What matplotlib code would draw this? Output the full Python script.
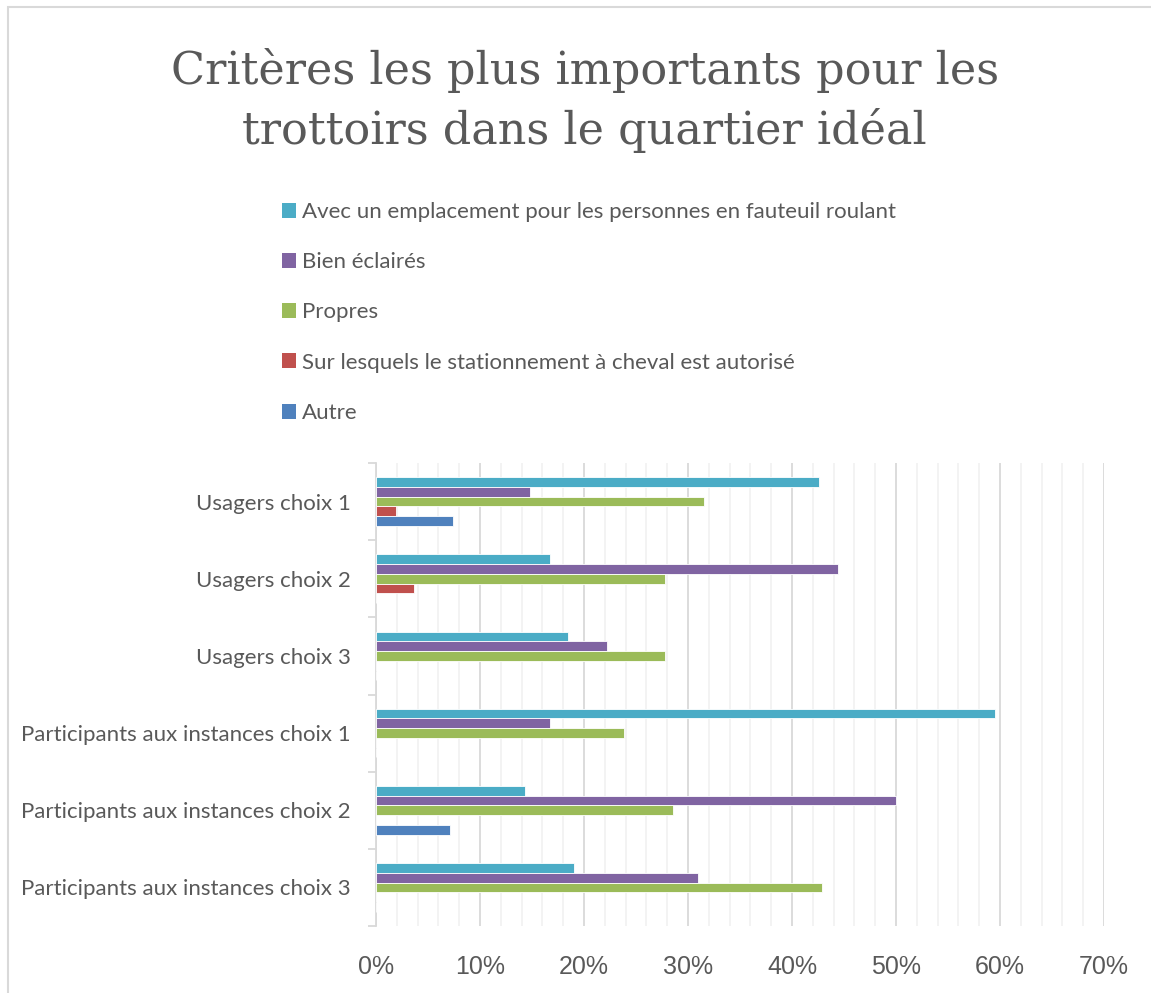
import numpy as np
import matplotlib.pyplot as plt
from matplotlib.patches import Patch, Rectangle
from matplotlib.ticker import MultipleLocator, FuncFormatter

categories = ["Usagers choix 1", "Usagers choix 2", "Usagers choix 3",
              "Participants aux instances choix 1",
              "Participants aux instances choix 2",
              "Participants aux instances choix 3"]

series_names = ["Avec un emplacement pour les personnes en fauteuil roulant",
                "Bien éclairés",
                "Propres",
                "Sur lesquels le stationnement à cheval est autorisé",
                "Autre"]

# shares, in %
fauteuil = [42.6, 16.7, 18.5, 59.5, 14.3, 19.0]
eclaires = [14.8, 44.4, 22.2, 16.7, 50.0, 31.0]
propres = [31.5, 27.8, 27.8, 23.8, 28.6, 42.9]
cheval = [1.9, 3.7, 0, 0, 0, 0]
autre = [7.4, 0, 0, 0, 7.1, 0]

values = [fauteuil, eclaires, propres, cheval, autre]
colors = ["#4BACC6", "#8064A2", "#9BBB59", "#C0504D", "#4F81BD"]

txt = "#595959"
sans = ["Lato", "DejaVu Sans"]

fig = plt.figure(figsize=(11.51, 9.93), dpi=100)

# chart border (only top/left visible in the crop)
fig.patches.append(Rectangle((8 / 1151, -0.1), 1.2, 1 - 7 / 993 + 0.1,
                             transform=fig.transFigure, fill=False,
                             edgecolor="#d9d9d9", lw=1.5))

fig.text(0.508, 0.952, "Critères les plus importants pour les\ntrottoirs dans le quartier idéal",
         ha="center", va="top", fontsize=32, color=txt, family="DejaVu Serif",
         linespacing=1.42)

ax = fig.add_axes([376 / 1151, 1 - 926 / 993, 728 / 1151, 463 / 993])

y = np.arange(len(categories))
h = 0.126
for i, (vals, c) in enumerate(zip(values, colors)):
    ax.barh(y + (i - 2) * h, vals, height=h, color=c, edgecolor="white",
            linewidth=0.6, zorder=3)

ax.set_xlim(0, 70)
ax.set_ylim(len(categories) - 0.5, -0.5)
ax.xaxis.set_major_locator(MultipleLocator(10))
ax.xaxis.set_minor_locator(MultipleLocator(2))
ax.xaxis.set_major_formatter(FuncFormatter(lambda v, p: f"{v:.0f}%"))
ax.grid(axis="x", which="major", color="#d9d9d9", lw=1.3, zorder=0)
ax.grid(axis="x", which="minor", color="#f0f0f0", lw=1.1, zorder=0)
ax.tick_params(axis="x", which="both", length=0, pad=21, labelsize=18,
               labelcolor=txt)
for lab in ax.get_xticklabels():
    lab.set_family("Liberation Sans")

ax.set_yticks(y)
ax.set_yticklabels(categories, family=sans, fontsize=16, color=txt)
ax.set_yticks(np.arange(-0.5, len(categories)), minor=True)
ax.tick_params(axis="y", which="major", length=0, pad=18)
ax.tick_params(axis="y", which="minor", length=6, color="#d9d9d9", width=1.3)

for s in ["top", "right", "bottom"]:
    ax.spines[s].set_visible(False)
ax.spines["left"].set_color("#d9d9d9")
ax.spines["left"].set_linewidth(1.3)

handles = [Patch(facecolor=c, edgecolor="none") for c in colors]
fig.legend(handles, series_names, loc="upper left",
           bbox_to_anchor=(262 / 1151, 1 - 182 / 993), frameon=False,
           prop={"family": sans, "size": 16}, labelcolor=txt,
           handlelength=0.65, handleheight=0.65, handletextpad=0.25,
           labelspacing=1.36)

fig.savefig("out.png", dpi=100)
